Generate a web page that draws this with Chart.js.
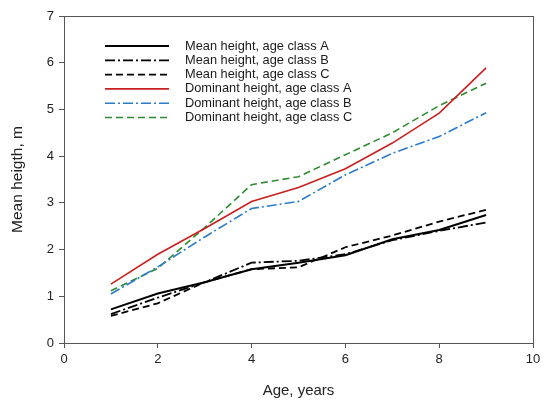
<!DOCTYPE html>
<html>
<head>
<meta charset="utf-8">
<script src="https://cdn.jsdelivr.net/npm/chart.js@4.4.1/dist/chart.umd.min.js"></script>
<style>
    html, body { margin: 0; padding: 0; background: #fff; }
    #wrap { width: 550px; height: 408px; }
</style>
</head>
<body>
<div id="wrap"><canvas id="myChart" width="550" height="408"></canvas></div>
<script>
var ages = [1, 2, 3, 4, 5, 6, 7, 8, 9];
var meanA = [0.72, 1.06, 1.3, 1.58, 1.72, 1.88, 2.22, 2.42, 2.74];
var meanB = [0.62, 0.97, 1.3, 1.72, 1.76, 1.9, 2.2, 2.4, 2.58];
var meanC = [0.58, 0.85, 1.3, 1.58, 1.62, 2.05, 2.3, 2.6, 2.85];
var domA = [1.26, 1.9, 2.45, 3.03, 3.33, 3.73, 4.28, 4.92, 5.89];
var domB = [1.05, 1.63, 2.27, 2.88, 3.03, 3.6, 4.06, 4.42, 4.93];
var domC = [1.12, 1.6, 2.47, 3.39, 3.56, 4.03, 4.5, 5.08, 5.56];
var seriesNames = ["Mean height, age class A", "Mean height, age class B", "Mean height, age class C",
    "Dominant height, age class A", "Dominant height, age class B", "Dominant height, age class C"];
var xTicks = [0, 2, 4, 6, 8, 10];
var yTicks = [0, 1, 2, 3, 4, 5, 6, 7];

var dashDot = [10, 3, 2, 3];
var dashed = [7, 4];

function serie(label, values, color, dash, width) {
    return {
        label: label,
        data: ages.map(function (a, i) { return { x: a, y: values[i] }; }),
        borderColor: color,
        borderWidth: width,
        borderDash: dash,
        pointRadius: 0,
        fill: false,
        tension: 0
    };
}

// leyenda dibujada a mano dentro del area del grafico
var legendaPlugin = {
    id: 'legenda',
    afterDraw: function (chart) {
        var ctx = chart.ctx;
        var area = chart.chartArea;
        ctx.save();
        ctx.strokeStyle = '#555';
        ctx.lineWidth = 1;
        ctx.setLineDash([]);
        ctx.strokeRect(area.left + 0.5, area.top + 0.5, area.right - area.left, area.bottom - area.top);

        ctx.font = '12.8px "Liberation Sans", Arial, sans-serif';
        ctx.textBaseline = 'middle';
        ctx.fillStyle = '#1a1a1a';
        chart.data.datasets.forEach(function (ds, i) {
            var y = 46 + i * 14.3;
            ctx.beginPath();
            ctx.strokeStyle = ds.borderColor;
            ctx.lineWidth = ds.borderWidth;
            ctx.setLineDash(ds.borderDash);
            ctx.moveTo(105, y);
            ctx.lineTo(169, y);
            ctx.stroke();
            ctx.setLineDash([]);
            ctx.fillText(ds.label, 185, y);
        });
        ctx.restore();
    }
};

var ctx = document.getElementById('myChart').getContext('2d');
var myNewChart = new Chart(ctx, {
    type: 'line',
    data: {
        datasets: [
            serie(seriesNames[0], meanA, '#000000', [], 2),
            serie(seriesNames[1], meanB, '#000000', dashDot, 1.8),
            serie(seriesNames[2], meanC, '#000000', dashed, 1.8),
            serie(seriesNames[3], domA, '#c8201e', [], 1.6),
            serie(seriesNames[4], domB, '#2b7ccc', dashDot, 1.6),
            serie(seriesNames[5], domC, '#2e8b2e', dashed, 1.6)
        ]
    },
    options: {
        responsive: false,
        animation: false,
        layout: { padding: { left: 0, top: 16, right: 17, bottom: 0 } },
        plugins: {
            legend: { display: false },
            tooltip: { enabled: false }
        },
        scales: {
            x: {
                type: 'linear',
                min: 0,
                max: 10,
                afterBuildTicks: function (scale) {
                    scale.ticks = xTicks.map(function (v) { return { value: v }; });
                },
                afterFit: function (scale) { scale.height = 65; },
                grid: { drawOnChartArea: false, drawTicks: true, tickLength: 5, color: '#555' },
                border: { color: '#555' },
                ticks: {
                    color: '#222',
                    padding: 4,
                    maxRotation: 0,
                    font: { family: '"Liberation Sans", Arial, sans-serif', size: 13 }
                },
                title: {
                    display: true,
                    text: 'Age, years',
                    color: '#222',
                    padding: { top: 0, bottom: 8 },
                    font: { family: '"Liberation Sans", Arial, sans-serif', size: 15 }
                }
            },
            y: {
                type: 'linear',
                min: 0,
                max: 7,
                afterBuildTicks: function (scale) {
                    scale.ticks = yTicks.map(function (v) { return { value: v }; });
                },
                afterFit: function (scale) { scale.width = 64; },
                grid: { drawOnChartArea: false, drawTicks: true, tickLength: 5, color: '#555' },
                border: { color: '#555' },
                ticks: {
                    color: '#222',
                    padding: 5,
                    font: { family: '"Liberation Sans", Arial, sans-serif', size: 13 }
                },
                title: {
                    display: true,
                    text: 'Mean heigth, m',
                    color: '#222',
                    padding: { top: 8, bottom: 0 },
                    font: { family: '"Liberation Sans", Arial, sans-serif', size: 15.5 }
                }
            }
        }
    },
    plugins: [legendaPlugin]
});
</script>
</body>
</html>
